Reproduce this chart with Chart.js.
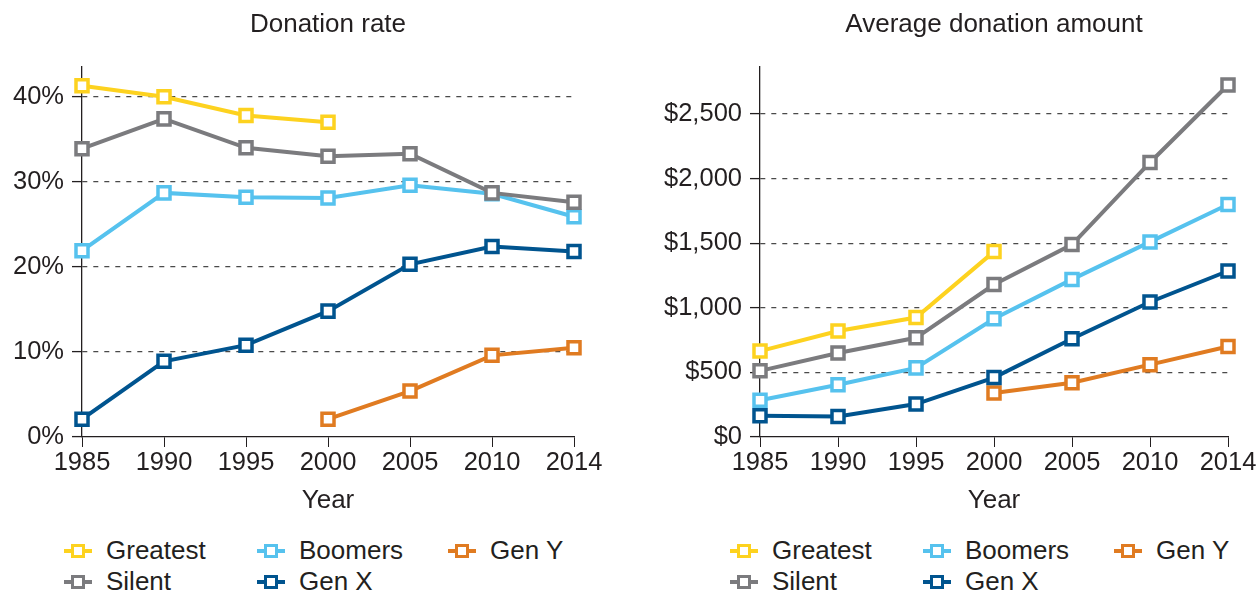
<!DOCTYPE html>
<html>
<head>
<meta charset="utf-8">
<script src="https://cdn.jsdelivr.net/npm/chart.js@4"></script>
<style>
  html, body { margin: 0; padding: 0; background: #fff; }
  body { width: 1260px; height: 594px; position: relative; overflow: hidden;
         font-family: "Liberation Sans", Arial, sans-serif; color: #231f20; }
  .wrap { position: absolute; top: 0; width: 630px; height: 520px; }
  .legend { position: absolute; top: 532px; width: 630px; height: 62px; font-size: 26px; }
  .item { position: absolute; height: 30px; line-height: 30px; white-space: nowrap; }
  .mk { position: absolute; left: 0; top: 14px; width: 28px; height: 4px; }
  .sq { position: absolute; left: 7px; top: -5px; width: 8px; height: 8px; background: #fff; border: 3px solid; }
  .lbl { position: absolute; left: 42px; top: 0; }
</style>
</head>
<body>
<div class="wrap" style="left:0"><canvas id="c1" width="630" height="520"></canvas></div>
<div class="wrap" style="left:630px"><canvas id="c2" width="630" height="520"></canvas></div>
<div class="legend" id="lg1" style="left:0"></div>
<div class="legend" id="lg2" style="left:666px"></div>
<script>
const years = ['1985', '1990', '1995', '2000', '2005', '2010', '2014'];
const seriesNames = ['Greatest', 'Silent', 'Boomers', 'Gen X', 'Gen Y'];
const seriesColors = ['#fdd21f', '#7b7b7e', '#56c2ee', '#00548f', '#e07b21'];

// Donation rate (%)
const rateGreatest = [41.3, 40.0, 37.8, 37.0, null, null, null];
const rateSilent   = [33.9, 37.4, 34.0, 33.0, 33.3, 28.7, 27.6];
const rateBoomers  = [21.9, 28.7, 28.2, 28.1, 29.6, 28.6, 25.9];
const rateGenX     = [2.1, 8.9, 10.8, 14.8, 20.3, 22.4, 21.8];
const rateGenY     = [null, null, null, 2.1, 5.4, 9.6, 10.5];

// Average donation amount ($)
const amtGreatest = [665, 820, 925, 1435, null, null, null];
const amtSilent   = [512, 650, 768, 1180, 1490, 2125, 2725];
const amtBoomers  = [285, 405, 535, 915, 1220, 1510, 1800];
const amtGenX     = [165, 158, 255, 460, 760, 1045, 1285];
const amtGenY     = [null, null, null, 340, 420, 560, 700];

const rateTicks = [0, 10, 20, 30, 40];
const amtTicks = [0, 500, 1000, 1500, 2000, 2500];

const INK = '#231f20';
const FONT = "'Liberation Sans', Arial, sans-serif";
const FS_TICK = 25.5;
const FS_TITLE = 26;

function mkDatasets(arrs) {
  return arrs.map((d, i) => ({
    label: seriesNames[i],
    data: d,
    borderColor: seriesColors[i],
    backgroundColor: '#ffffff',
    pointBackgroundColor: '#ffffff',
    pointBorderColor: seriesColors[i],
    pointStyle: 'rect',
    pointRadius: 8.5,
    pointHoverRadius: 8.5,
    pointBorderWidth: 3.5,
    borderWidth: 4,
    tension: 0,
    spanGaps: false,
    order: i
  }));
}

function mkChart(id, title, datasets, ymax, ticks, fmt, yWidth, padRight) {
  return new Chart(document.getElementById(id), {
    type: 'line',
    data: { labels: years, datasets: datasets },
    options: {
      responsive: false,
      animation: false,
      events: [],
      layout: { padding: { left: 0, right: padRight, top: 0, bottom: 0 } },
      plugins: {
        legend: { display: false },
        tooltip: { enabled: false },
        title: {
          display: true, text: title, fullSize: false, color: INK,
          font: { family: FONT, size: FS_TITLE, weight: 'normal' },
          padding: { top: 9, bottom: 26.8 }
        }
      },
      scales: {
        x: {
          type: 'category',
          offset: false,
          grid: { drawOnChartArea: false, drawTicks: true, tickLength: 10, tickColor: INK, tickWidth: 1 },
          border: { display: true, color: INK, width: 1.3 },
          ticks: { color: INK, font: { family: FONT, size: FS_TICK }, padding: 1, maxRotation: 0, autoSkip: false },
          title: { display: true, text: 'Year', color: INK, font: { family: FONT, size: FS_TITLE }, padding: { top: 0, bottom: 4 } },
          afterFit: (s) => { s.height = 83; }
        },
        y: {
          type: 'linear',
          min: 0, max: ymax,
          afterBuildTicks: (s) => { s.ticks = ticks.map(v => ({ value: v })); },
          grid: {
            drawOnChartArea: true, drawTicks: true, tickLength: 10,
            color: (ctx) => (ctx.tick && ctx.tick.value === 0) ? 'rgba(0,0,0,0)' : '#4a4a4a',
            lineWidth: 1.2, tickColor: INK, tickWidth: 1.3, tickBorderDash: []
          },
          border: { display: true, color: INK, width: 1.3, dash: [5, 6] },
          ticks: { color: INK, font: { family: FONT, size: FS_TICK }, padding: 8, callback: fmt },
          afterFit: (s) => { s.width = yWidth; }
        }
      }
    }
  });
}

mkChart('c1', 'Donation rate',
  mkDatasets([rateGreatest, rateSilent, rateBoomers, rateGenX, rateGenY]),
  43.5, rateTicks, (v) => v + '%', 82, 56);

mkChart('c2', 'Average donation amount',
  mkDatasets([amtGreatest, amtSilent, amtBoomers, amtGenX, amtGenY]),
  2864, amtTicks, (v) => '$' + v.toLocaleString('en-US'), 130, 32);

// HTML legends (3 columns, column-major order)
function buildLegend(id) {
  const el = document.getElementById(id);
  const cols = [64, 257, 448];
  const rows = [535 - 532, 566 - 532];
  seriesNames.forEach((name, i) => {
    const col = Math.floor(i / 2), row = i % 2;
    const it = document.createElement('div');
    it.className = 'item';
    it.style.left = cols[col] + 'px';
    it.style.top = rows[row] + 'px';
    const mk = document.createElement('div');
    mk.className = 'mk';
    mk.style.background = seriesColors[i];
    const sq = document.createElement('div');
    sq.className = 'sq';
    sq.style.borderColor = seriesColors[i];
    mk.appendChild(sq);
    const lb = document.createElement('span');
    lb.className = 'lbl';
    lb.textContent = name;
    it.appendChild(mk);
    it.appendChild(lb);
    el.appendChild(it);
  });
}
buildLegend('lg1');
buildLegend('lg2');
</script>
</body>
</html>
